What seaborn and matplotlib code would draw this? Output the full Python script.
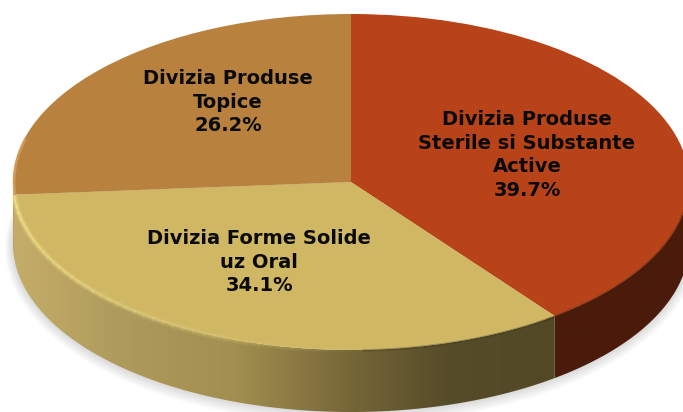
import matplotlib.pyplot as plt
import seaborn as sns
import numpy as np
from matplotlib.colors import LinearSegmentedColormap
from matplotlib.patches import Ellipse, Polygon

names = ["Divizia Produse\nSterile si Substante\nActive", "Divizia Forme Solide\nuz Oral", "Divizia Produse\nTopice"]
values = [39.7, 34.1, 26.2]
top_colors = ["#b84318", "#d0b764", "#b8823e"]
rim_colors = [["#4a1b0a", "#4a1b0a"],
              ["#c4ad68", "#ad9a5c", "#a39050", "#7a6a3a", "#564c28", "#524826"],
              ["#c89a58", "#c89a58"]]

sns.set_theme(style="white")
plt.rcParams['font.family'] = ['DejaVu Sans']

W, H = 683, 412
cx, cy, rx, ry, depth = 351, 182, 338, 168, 62

fig = plt.figure(figsize=(W / 100, H / 100), dpi=100)
ax = fig.add_axes([0, 0, 1, 1])

def px(x, y):
    return (x - cx) / rx, (cy - y) / ry

d = depth / ry

# top face
wedges, _ = ax.pie(values, colors=sns.color_palette(top_colors), startangle=90, counterclock=False,
                   radius=1, center=(0, 0), wedgeprops={"linewidth": 0, "zorder": 5})

# soft shadow under the disc
for k in range(12, 0, -1):
    ax.add_patch(Ellipse((0, -d - 0.002 * k), 2 * (1 + k * 0.002), 2 * (1 + k * 0.004),
                         fc="#000000", ec="none", alpha=0.012, zorder=1))

# side wall, one gradient per slice
bounds = 90 - 360 * np.cumsum([0] + values) / sum(values)
for i in range(len(values)):
    a0, a1 = bounds[i + 1] % 360, bounds[i] % 360
    if a1 <= a0:
        a1 += 360
    a = np.radians(np.linspace(max(a0, 180), min(a1, 360), 300))
    if a0 >= 360:
        continue
    xs, ys = np.cos(a), np.sin(a)
    poly = np.vstack([np.c_[xs, ys], np.c_[xs[::-1], ys[::-1] - d]])
    cmap = LinearSegmentedColormap.from_list("side", rim_colors[i])
    im = ax.imshow(np.linspace(0, 1, 256).reshape(1, -1), cmap=cmap, aspect="auto", zorder=2,
                   extent=(xs.min(), xs.max(), -2, 2))
    clip = Polygon(poly, transform=ax.transData, fc="none", ec="none")
    ax.add_patch(clip)
    im.set_clip_path(clip)

# light band on the front edge of the yellow slice, fading out to the right
start = bounds[2] % 360
edges = np.linspace(start, 272, 45)
for j in range(len(edges) - 1):
    fade = 1 - j / (len(edges) - 1)
    a = np.radians(np.linspace(edges[j], edges[j + 1] + 0.2, 6))
    for lw, al in [(5, 0.14), (3.2, 0.28), (1.6, 0.5)]:
        ax.plot(np.cos(a), np.sin(a) - 0.004, color="#f8e88c", lw=lw, alpha=al * fade, zorder=6,
                solid_capstyle="butt")

# soft dark edge towards the right
a = np.radians(np.linspace(272, 305.1, 100))
ax.plot(np.cos(a), np.sin(a) - 0.003, color="#3a3318", lw=1.8, alpha=0.3, zorder=6, solid_capstyle="butt")
a = np.radians(np.linspace(305.1, 360, 100))
ax.plot(np.cos(a), np.sin(a) - 0.003, color="#4a1b0a", lw=1.8, alpha=0.4, zorder=6, solid_capstyle="butt")

# lighter rim on the lower left of the brown slice
a = np.radians(np.linspace(165, start, 40))
ax.plot(0.997 * np.cos(a), 0.997 * np.sin(a), color="#d8a45c", lw=2, alpha=0.7, zorder=6, solid_capstyle="butt")

# labels
label_pos = [(527, 155), (259, 262), (228, 102)]
for name, v, (lx, ly) in zip(names, values, label_pos):
    tx, ty = px(lx, ly)
    ax.text(tx, ty, f"{name}\n{v:.1f}%", ha="center", va="center", fontsize=14, fontweight="bold",
            color="#0a0a0a", linespacing=1.32, zorder=10)

ax.set_aspect("auto")
ax.set_xlim(px(0, 0)[0], px(W, 0)[0])
ax.set_ylim(px(0, H)[1], px(0, 0)[1])
ax.axis("off")
fig.savefig("out.png", dpi=100, facecolor="white")
